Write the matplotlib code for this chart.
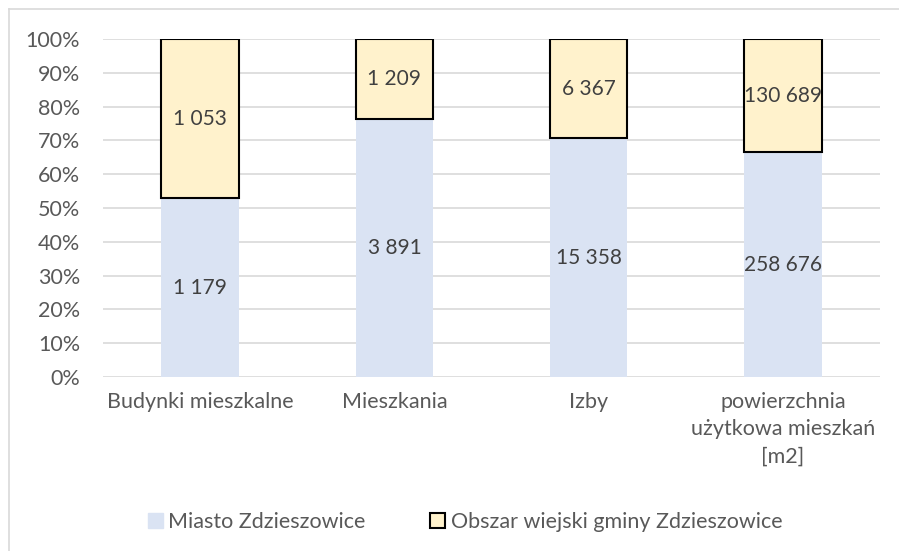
import matplotlib.pyplot as plt
import numpy as np
from matplotlib.patches import Patch
from matplotlib.lines import Line2D

plt.rcParams['font.family'] = ['Lato', 'DejaVu Sans']

categories = ['Budynki mieszkalne', 'Mieszkania', 'Izby',
              'powierzchnia\nużytkowa mieszkań\n[m2]']
miasto = [1179, 3891, 15358, 258676]
wies = [1053, 1209, 6367, 130689]
miasto_lbl = ['1 179', '3 891', '15 358', '258 676']
wies_lbl = ['1 053', '1 209', '6 367', '130 689']
series_names = ['Miasto Zdzieszowice', 'Obszar wiejski gminy Zdzieszowice']

miasto = np.array(miasto, dtype=float)
wies = np.array(wies, dtype=float)
tot = miasto + wies
p_m = miasto / tot * 100
p_w = wies / tot * 100

fig = plt.figure(figsize=(8.99, 5.51), dpi=100)
ax = fig.add_axes([103/899, 1-377/551, 777/899, 338/551])

x = np.arange(len(categories))
blue = '#DAE3F3'
yellow = '#FFF2CC'
ax.bar(x, p_m, width=0.4, color=blue, zorder=2)
ax.bar(x, p_w, bottom=p_m, width=0.4, color=yellow, edgecolor='black',
       linewidth=1.5, zorder=3)

for i in range(len(x)):
    ax.text(x[i], p_m[i] / 2, miasto_lbl[i], ha='center', va='center',
            fontsize=15, color='#404040', zorder=4)
    ax.text(x[i], p_m[i] + p_w[i] / 2, wies_lbl[i], ha='center', va='center',
            fontsize=15, color='#404040', zorder=4)

ax.set_xlim(-0.5, 3.5)
ax.set_ylim(0, 100)
ax.set_yticks(np.arange(0, 101, 10))
ax.set_yticklabels([f'{v}%' for v in range(0, 101, 10)])
ax.set_xticks(x)
ax.set_xticklabels(categories, linespacing=1.45)
ax.tick_params(axis='both', length=0, labelsize=15.5, labelcolor='#595959')
ax.tick_params(axis='y', pad=16.5)
ax.tick_params(axis='x', pad=11)
ax.grid(axis='y', color='#D9D9D9', linewidth=1.2, zorder=0)
for s in ax.spines.values():
    s.set_visible(False)

handles = [Patch(facecolor=blue, edgecolor=blue, label=series_names[0]),
           Patch(facecolor=yellow, edgecolor='black', linewidth=1.5,
                 label=series_names[1])]
fig.legend(handles=handles, loc='center', bbox_to_anchor=(465/899, 1-522/551),
           ncol=2, frameon=False, fontsize=15.5, labelcolor='#595959',
           handlelength=0.7, handleheight=0.7, handletextpad=0.25,
           columnspacing=3.0)

# chart border (left and top edges visible)
fig.add_artist(Line2D([9/899, 9/899], [0, 1-9/551], transform=fig.transFigure,
                      color='#D9D9D9', linewidth=1.2))
fig.add_artist(Line2D([9/899, 1], [1-9/551, 1-9/551], transform=fig.transFigure,
                      color='#D9D9D9', linewidth=1.2))

fig.savefig('out.png', dpi=100)
